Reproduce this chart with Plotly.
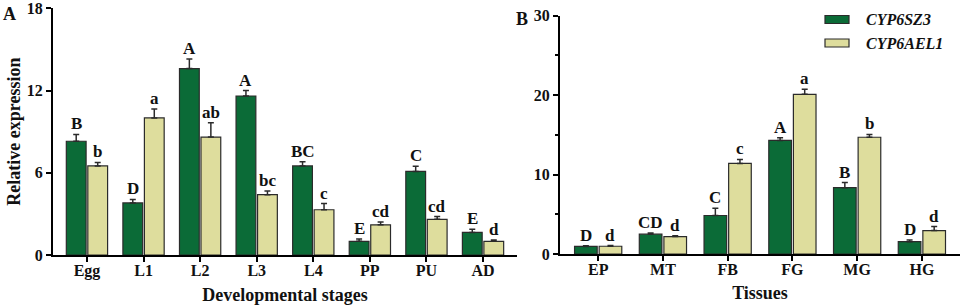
import plotly.graph_objects as go

# ---------------- data ----------------
stages = ["Egg", "L1", "L2", "L3", "L4", "PP", "PU", "AD"]
stage_sz3 = [8.3, 3.8, 13.6, 11.6, 6.5, 1.0, 6.1, 1.65]
stage_sz3_err = [0.5, 0.25, 0.7, 0.4, 0.3, 0.17, 0.37, 0.22]
stage_sz3_lbl = ["B", "D", "A", "A", "BC", "E", "C", "E"]
stage_ael1 = [6.5, 10.0, 8.6, 4.4, 3.3, 2.2, 2.6, 1.0]
stage_ael1_err = [0.25, 0.65, 1.05, 0.27, 0.45, 0.2, 0.2, 0.1]
stage_ael1_lbl = ["b", "a", "ab", "bc", "c", "cd", "cd", "d"]

tissues = ["EP", "MT", "FB", "FG", "MG", "HG"]
tis_sz3 = [0.96, 2.5, 4.85, 14.3, 8.35, 1.55]
tis_sz3_err = [0.08, 0.15, 0.9, 0.35, 0.65, 0.2]
tis_sz3_lbl = ["D", "CD", "C", "A", "B", "D"]
tis_ael1 = [0.98, 2.2, 11.4, 20.1, 14.7, 2.95]
tis_ael1_err = [0.08, 0.1, 0.5, 0.65, 0.35, 0.5]
tis_ael1_lbl = ["d", "d", "c", "a", "b", "d"]

series_names = ["CYP6SZ3", "CYP6AEL1"]
yticks_a = [0, 6, 12, 18]
yticks_b = [0, 10, 20, 30]

# ---------------- style ----------------
GREEN = "#0b6b37"
YELLOW = "#dedd9d"
EDGE = "#2b2b2b"
FAM = "Liberation Serif, Times New Roman, serif"
TXT = "#111111"
BARGAP = 0.24
OFF = (1 - BARGAP) / 4


def bfont(size, italic=False):
    d = dict(family=FAM, size=size, color=TXT, weight="bold")
    if italic:
        d["style"] = "italic"
    return d


fig = go.Figure()


def add_panel(cats, v1, e1, l1, v2, e2, l2, xa, ya):
    for vals, errs, col, name in ((v1, e1, GREEN, series_names[0]), (v2, e2, YELLOW, series_names[1])):
        fig.add_trace(go.Bar(
            x=cats, y=vals, name=name, marker=dict(color=col, line=dict(color=EDGE, width=1.2)),
            error_y=dict(type="data", array=errs, arrayminus=[0] * len(errs), symmetric=False,
                         color=EDGE, thickness=1.5, width=3),
            xaxis=xa, yaxis=ya, showlegend=False, hoverinfo="skip"))
    for i in range(len(cats)):
        for vals, errs, lbls, sgn in ((v1, e1, l1, -1), (v2, e2, l2, 1)):
            fig.add_annotation(x=i + sgn * OFF, y=vals[i] + errs[i], text=lbls[i],
                               xref=xa, yref=ya, showarrow=False, yanchor="bottom", yshift=-1,
                               font=bfont(17))


add_panel(stages, stage_sz3, stage_sz3_err, stage_sz3_lbl,
          stage_ael1, stage_ael1_err, stage_ael1_lbl, "x", "y")
add_panel(tissues, tis_sz3, tis_sz3_err, tis_sz3_lbl,
          tis_ael1, tis_ael1_err, tis_ael1_lbl, "x2", "y2")

axis_common = dict(showline=True, linecolor="#000", linewidth=2, ticks="outside",
                   tickwidth=2, ticklen=5, tickcolor="#000", showgrid=False, zeroline=False,
                   automargin=False, tickfont=bfont(16), ticklabeloverflow="allow")
xstand = dict(ticklabelstandoff=-5)

fig.update_layout(
    width=962, height=307, margin=dict(l=0, r=0, t=0, b=0),
    paper_bgcolor="white", plot_bgcolor="white",
    barmode="group", bargap=BARGAP, bargroupgap=0.08,
    xaxis=dict(domain=[0.0551, 0.5374], range=[-0.6, 7.6], anchor="y",
               title=dict(text="Developmental stages", font=bfont(18), standoff=9),
               **xstand, **axis_common),
    yaxis=dict(domain=[0.1694, 0.973], range=[0, 18], tickvals=yticks_a, anchor="x",
               title=dict(text="Relative expression", font=bfont(18), standoff=2),
               **axis_common),
    xaxis2=dict(domain=[0.5821, 0.998], range=[-0.59, 5.59], anchor="y2",
                title=dict(text="Tissues", font=bfont(18), standoff=9),
                **xstand, **axis_common),
    yaxis2=dict(domain=[0.1726, 0.9489], range=[0, 30], tickvals=yticks_b, anchor="x2",
                minor=dict(tickvals=[5, 15, 25], ticks="outside", ticklen=3, tickwidth=2, tickcolor="#000"),
                **axis_common),
)

# panel letters
fig.add_annotation(x=9 / 962, y=1 - 14 / 307, xref="paper", yref="paper", text="A",
                   xanchor="center", yanchor="middle", showarrow=False, font=bfont(18))
fig.add_annotation(x=522 / 962, y=1 - 19 / 307, xref="paper", yref="paper", text="B",
                   xanchor="center", yanchor="middle", showarrow=False, font=bfont(18))

# legend
for k, (col, name) in enumerate(((GREEN, series_names[0]), (YELLOW, series_names[1]))):
    yc = 19.5 + k * 23.5
    fig.add_shape(type="rect", xref="paper", yref="paper",
                  x0=825 / 962, x1=849 / 962, y0=1 - (yc - 4) / 307, y1=1 - (yc + 4) / 307,
                  fillcolor=col, line=dict(color=EDGE, width=1.2))
    fig.add_annotation(x=864 / 962, y=1 - yc / 307, xref="paper", yref="paper",
                       text=name, xanchor="left", yanchor="middle", showarrow=False,
                       font=bfont(16, italic=True))

fig.write_html("out.html", config={"displayModeBar": False},
               post_script="document.body.style.margin='0';document.body.style.overflow='hidden';")
